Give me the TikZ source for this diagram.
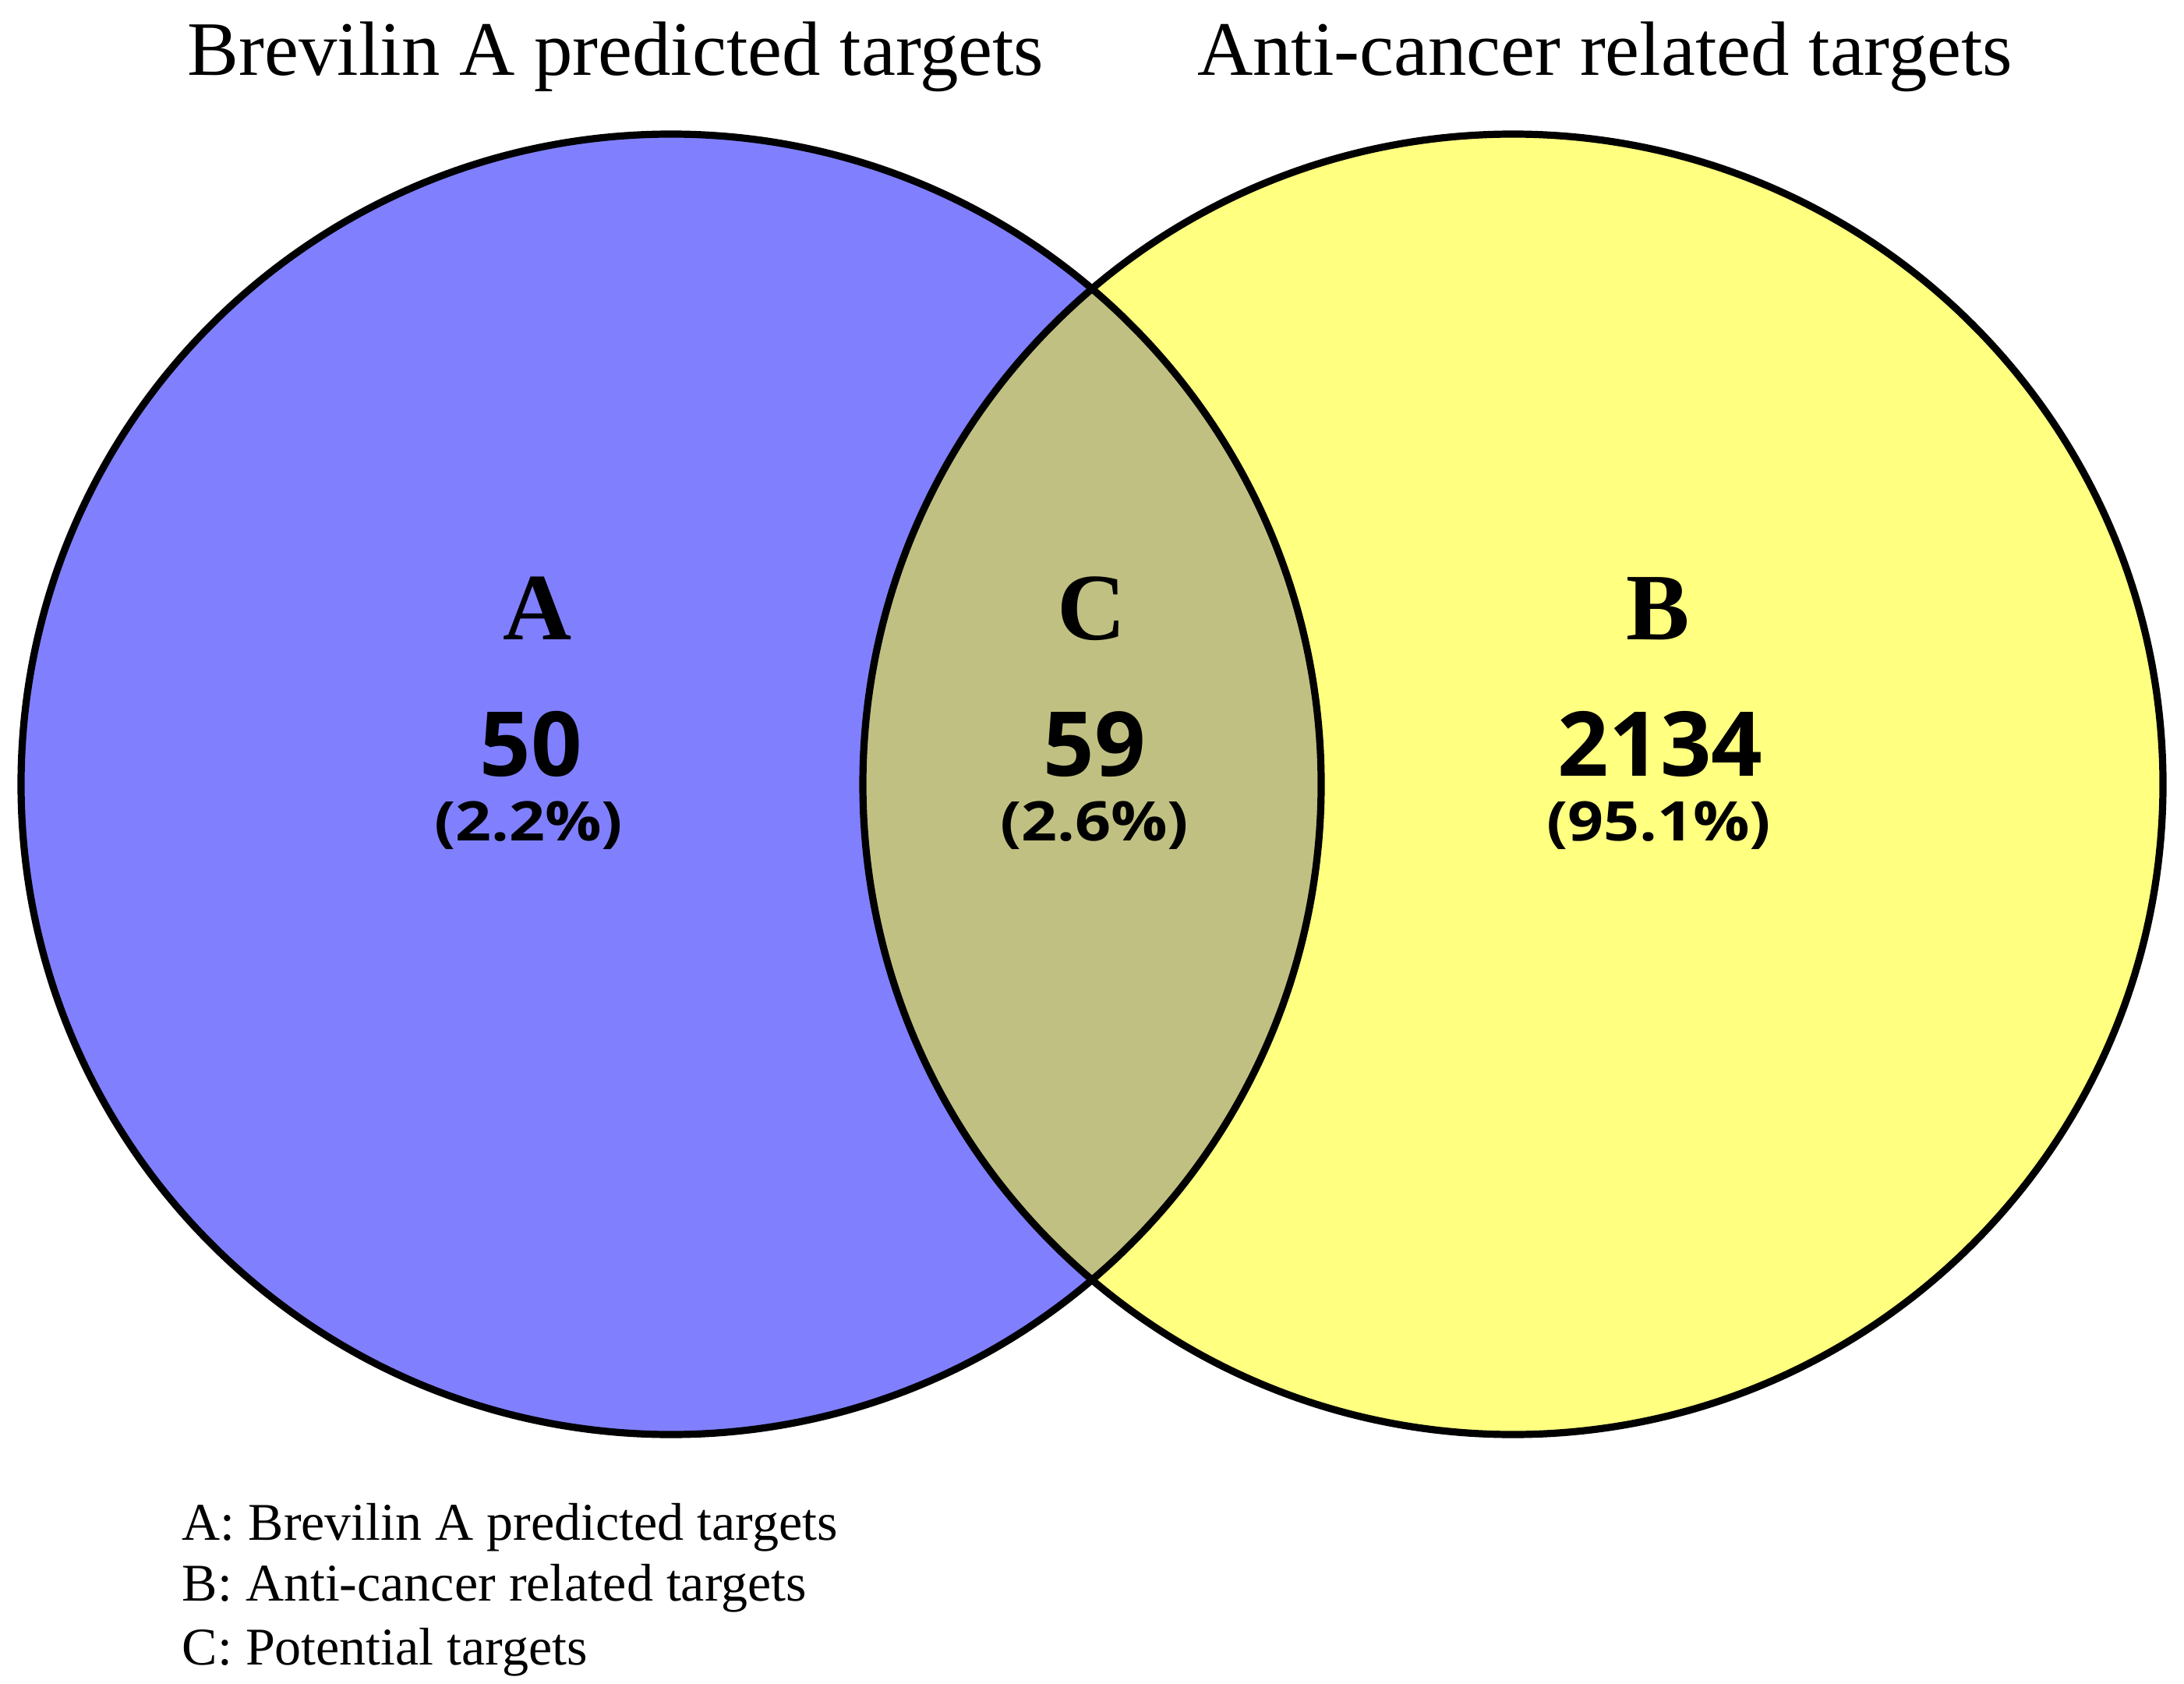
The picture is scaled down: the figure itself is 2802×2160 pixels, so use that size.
\documentclass[tikz,border=0pt]{standalone}
\usepackage{graphicx}
\usepackage{fontspec}
\setmainfont{Liberation Serif}
\newfontfamily\numfont{Open Sans}
\newcommand\widepct[1]{\scalebox{1.15}[1]{#1}}
\definecolor{setblue}{RGB}{128,128,255}
\definecolor{setyellow}{RGB}{255,255,128}
\definecolor{setolive}{RGB}{192,192,130}
\tikzset{
  setdisc/.style={circle, inner sep=0pt, outer sep=0pt, minimum size=417pt},
  ring/.style={draw=black, line width=2.3pt},
  titletext/.style={anchor=base, inner sep=0pt, font=\fontsize{24.7pt}{30pt}\selectfont},
  setletter/.style={anchor=base, inner sep=0pt, font=\fontsize{30.5pt}{36pt}\selectfont\bfseries},
  countnum/.style={anchor=base, inner sep=0pt, font=\numfont\fontsize{28.7pt}{34pt}\selectfont\bfseries},
  pctnum/.style={anchor=base, inner sep=0pt, font=\numfont\fontsize{17.5pt}{21pt}\selectfont\bfseries},
  legendtext/.style={anchor=base west, inner sep=0pt, font=\fontsize{17pt}{20pt}\selectfont},
}
\begin{document}
\begin{tikzpicture}[x=0.25pt, y=-0.25pt]
\useasboundingbox (0,0) rectangle (2802,2160);
\fill[white] (0,0) rectangle (2802,2160);
% discs
\node[setdisc, fill=setblue] (circA) at (861,1006) {};
\node[setdisc, fill=setyellow] (circB) at (1941,1006) {};
\begin{scope}
  \clip (circA.center) circle[radius=208.5pt];
  \fill[setolive] (circB.center) circle[radius=208.5pt];
\end{scope}
\draw[ring] (circA.center) circle[radius=208.5pt];
\draw[ring] (circB.center) circle[radius=208.5pt];
% titles
\node[titletext] (titleA) at (790,97) {Brevilin A predicted targets};
\node[titletext] (titleB) at (2059,97) {Anti-cancer related targets};
% region letters
\node[setletter] (letA) at (690,820) {A};
\node[setletter] (letC) at (1401,820) {C};
\node[setletter] (letB) at (2127,820) {B};
% counts
\node[countnum] (numA) at (681,995) {50};
\node[countnum] (numC) at (1404,995) {59};
\node[countnum] (numB) at (2130,995) {2134};
% percentages
\node[pctnum] (pctA) at (678,1078) {\widepct{(2.2\%)}};
\node[pctnum] (pctC) at (1404,1078) {\widepct{(2.6\%)}};
\node[pctnum] (pctB) at (2128,1078) {\widepct{(95.1\%)}};
% legend
\node[legendtext] (legA) at (233,1975) {A: Brevilin A predicted targets};
\node[legendtext] (legB) at (233,2053) {B: Anti-cancer related targets};
\node[legendtext] (legC) at (233,2135) {C: Potential targets};
\end{tikzpicture}
\end{document}
